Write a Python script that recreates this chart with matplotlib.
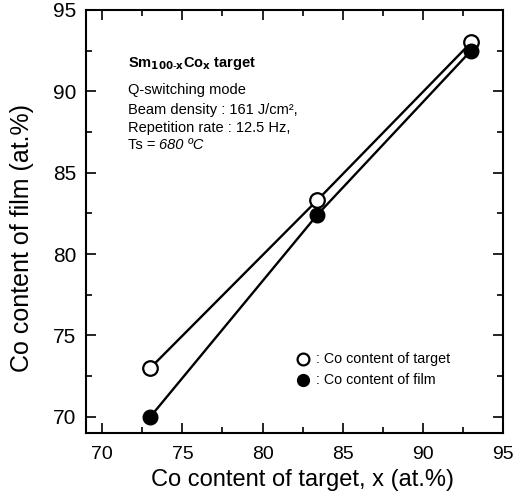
import matplotlib
matplotlib.use('Agg')
import matplotlib.pyplot as plt
from matplotlib.ticker import MultipleLocator

plt.rcParams.update({'font.family': ['Liberation Sans', 'DejaVu Sans']})

# data
x_target = [73.0, 83.4, 93.0]
y_target = [73.0, 83.3, 93.0]
y_film = [70.0, 82.4, 92.5]

fig = plt.figure(figsize=(5.22, 4.95), dpi=100)
ax = fig.add_axes([0.165, 0.125, 0.799, 0.855])

ax.plot(x_target, y_target, '-', color='black', lw=1.7, zorder=2)
ax.plot(x_target, y_film, '-', color='black', lw=1.7, zorder=2)
ax.plot(x_target, y_target, 'o', ms=10.5, mfc='white', mec='black', mew=1.6, zorder=3)
ax.plot(x_target, y_film, 'o', ms=10.5, mfc='black', mec='black', zorder=4)

ax.set_xlim(69, 95)
ax.set_ylim(69, 95)
ax.xaxis.set_major_locator(MultipleLocator(5))
ax.xaxis.set_minor_locator(MultipleLocator(2.5))
ax.yaxis.set_major_locator(MultipleLocator(5))
ax.yaxis.set_minor_locator(MultipleLocator(2.5))
ax.tick_params(which='both', direction='in', top=True, right=True, width=1.2)
ax.tick_params(which='major', length=7)
ax.tick_params(which='minor', length=4)
ax.tick_params(axis='x', which='major', labelsize=14, pad=9)
ax.tick_params(axis='y', which='major', labelsize=15, pad=7)
for s in ax.spines.values():
    s.set_linewidth(1.5)

ax.set_xlabel('Co content of target, x (at.%)', fontsize=17)
ax.set_ylabel('Co content of film (at.%)', fontsize=18)
ax.xaxis.set_label_coords(0.519, -0.085)
ax.yaxis.set_label_coords(-0.124, 0.46)

# annotation block
fs = 10.5
ax.text(71.6, 91.7, r'Sm$_{\mathbf{100\text{-}x}}$Co$_{\mathbf{x}}$ target', fontsize=10.5,
        fontweight='bold', va='center')
ax.text(71.6, 90.05, 'Q-switching mode', fontsize=fs, va='center')
ax.text(71.6, 88.85, 'Beam density : 161 J/cm², ', fontsize=fs, va='center')
ax.text(71.6, 87.75, 'Repetition rate : 12.5 Hz,', fontsize=fs, va='center')
ax.text(71.6, 86.7, 'Ts = ', fontsize=fs, va='center')
ax.text(73.55, 86.7, '680 ºC', fontsize=fs, va='center', style='italic')

# legend drawn as text
ax.plot([82.5], [73.56], 'o', ms=8.5, mfc='white', mec='black', mew=1.6)
ax.plot([82.5], [72.27], 'o', ms=8.5, mfc='black', mec='black')
ax.text(83.3, 73.56, ': Co content of target', fontsize=10.3, va='center')
ax.text(83.3, 72.27, ': Co content of film', fontsize=10.3, va='center')

fig.savefig('out.png', dpi=100)
